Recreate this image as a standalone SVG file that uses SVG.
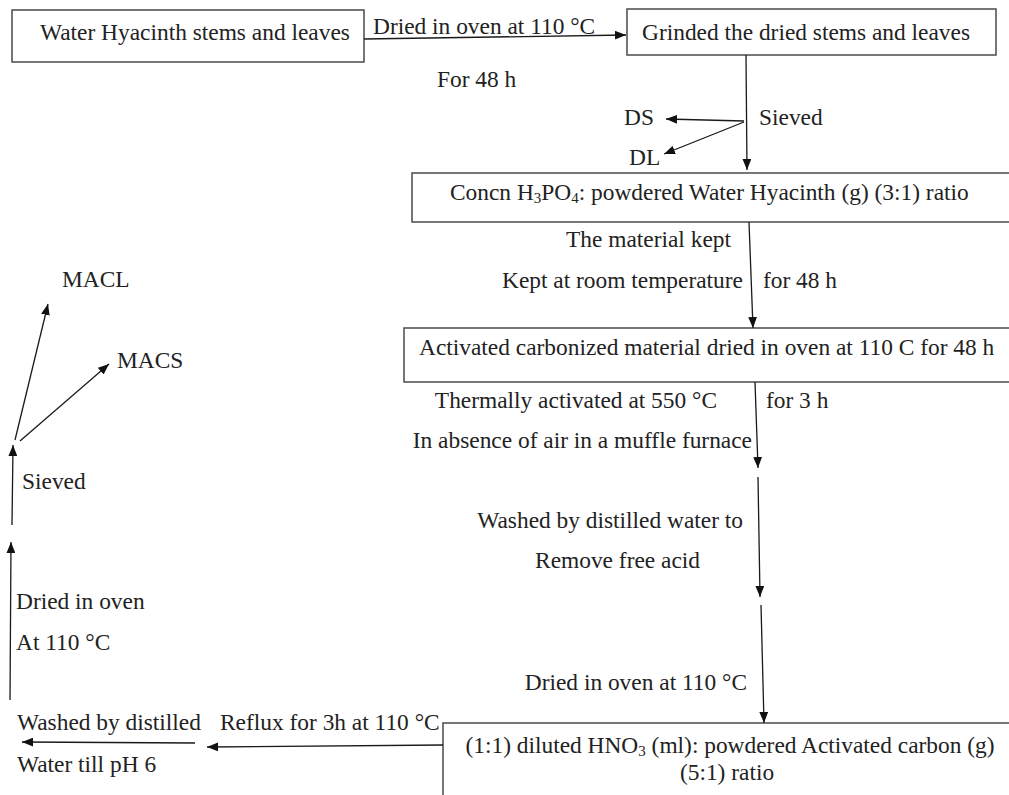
<svg xmlns="http://www.w3.org/2000/svg" width="1009" height="795" viewBox="0 0 1009 795">
<defs>
<style>
text{font-family:"Liberation Serif","Times New Roman",serif;font-size:23.4px;fill:#222}
.box{fill:#fff;stroke:#555;stroke-width:1.6}
.c{stroke:#1a1a1a;stroke-width:1.3;fill:none;marker-end:url(#ah)}
.e{text-anchor:end}
.m{text-anchor:middle}
</style>
<marker id="ah" viewBox="0 0 10 8" refX="10" refY="4" markerWidth="11" markerHeight="9" markerUnits="userSpaceOnUse" orient="auto"><path d="M0,0 L10,4 L0,8 z" fill="#111"/></marker>
</defs>
<rect width="1009" height="795" fill="#fff"/>

<g id="n1"><rect class="box" x="12" y="10" width="352" height="52"/><text x="40" y="40">Water Hyacinth stems and leaves</text></g>
<g id="n2"><rect class="box" x="627" y="9" width="369" height="46"/><text x="642" y="40">Grinded the dried stems and leaves</text></g>
<g id="n3"><rect class="box" x="412" y="173" width="620" height="49"/><text x="450" y="200">Concn H<tspan font-size="15" dy="3">3</tspan><tspan dy="-3">PO</tspan><tspan font-size="15" dy="3">4</tspan><tspan dy="-3">: powdered Water Hyacinth (g) (3:1) ratio</tspan></text></g>
<g id="n4"><rect class="box" x="404" y="328" width="630" height="54"/><text x="419" y="355">Activated carbonized material dried in oven at 110 C for 48 h</text></g>
<g id="n5"><rect class="box" x="443" y="723" width="600" height="90"/><text class="m" x="730" y="753">(1:1) diluted HNO<tspan font-size="15" dy="3">3</tspan><tspan dy="-3"> (ml): powdered Activated carbon (g)</tspan></text><text class="m" x="727" y="780">(5:1) ratio</text></g>
<g id="lbl-ds"><text x="624" y="125">DS</text></g>
<g id="lbl-dl"><text x="629" y="165">DL</text></g>
<g id="lbl-macl"><text x="62" y="287">MACL</text></g>
<g id="lbl-macs"><text x="117" y="368">MACS</text></g>

<g id="connectors">
<line class="c" x1="364" y1="39" x2="626" y2="35"/>
<line class="c" x1="746" y1="55" x2="747" y2="170"/>
<line class="c" x1="744" y1="121" x2="666" y2="119"/>
<line class="c" x1="744" y1="122" x2="664" y2="154"/>
<line class="c" x1="749" y1="222" x2="753" y2="328"/>
<line class="c" x1="755" y1="382" x2="758" y2="468"/>
<line class="c" x1="758" y1="477" x2="760" y2="597"/>
<line class="c" x1="761" y1="605" x2="764" y2="723"/>
<line class="c" x1="443" y1="745" x2="207" y2="747"/>
<line class="c" x1="195" y1="743" x2="22" y2="742"/>
<line class="c" x1="10" y1="700" x2="11" y2="542"/>
<line class="c" x1="12" y1="525" x2="13" y2="445"/>
<line class="c" x1="15" y1="440" x2="48" y2="304"/>
<line class="c" x1="20" y1="441" x2="109" y2="364"/>
</g>

<g id="labels">
<text x="373" y="34">Dried in oven at 110 °C</text>
<text x="437" y="87">For 48 h</text>
<text x="759" y="125">Sieved</text>
<text class="e" x="731" y="247">The material kept</text>
<text class="e" x="743" y="288">Kept at room temperature</text>
<text x="763" y="288">for 48 h</text>
<text class="e" x="717" y="408">Thermally activated at 550 °C</text>
<text x="766" y="408">for 3 h</text>
<text class="e" x="752" y="448">In absence of air in a muffle furnace</text>
<text class="e" x="743" y="528">Washed by distilled water to</text>
<text class="e" x="700" y="568">Remove free acid</text>
<text class="e" x="747" y="690">Dried in oven at 110 °C</text>
<text x="22" y="489">Sieved</text>
<text x="16" y="609">Dried in oven</text>
<text x="16" y="650">At 110 °C</text>
<text x="17" y="730">Washed by distilled</text>
<text x="17" y="772">Water till pH 6</text>
<text x="220" y="730">Reflux for 3h at 110 °C</text>
</g>
</svg>
